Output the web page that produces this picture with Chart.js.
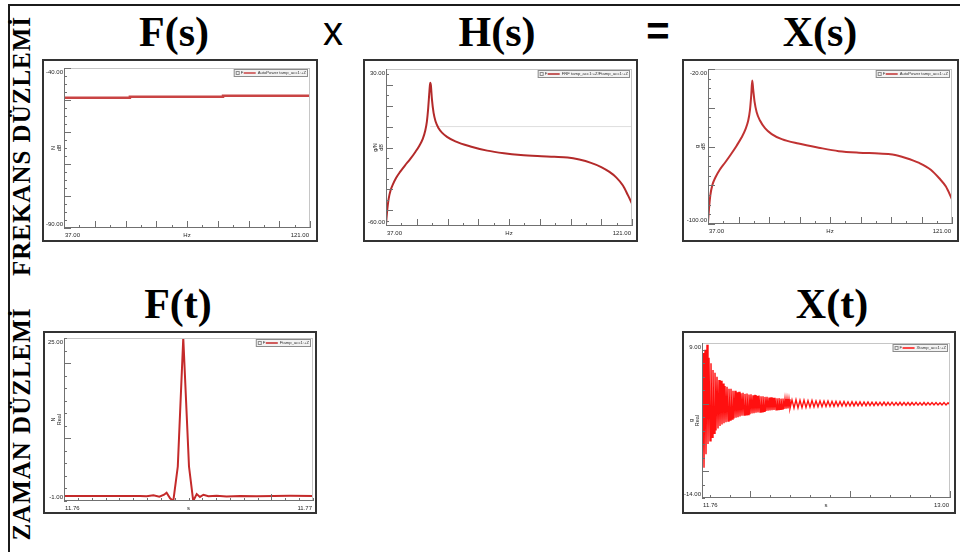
<!DOCTYPE html>
<html lang="tr">
<head>
<meta charset="UTF-8">
<title>Frekans ve Zaman Düzlemi</title>
<style>
  body {
    margin: 0;
    width: 960px;
    height: 552px;
    position: relative;
    overflow: hidden;
    background: #fff;
    font-family: 'Liberation Sans', Arial, sans-serif;
  }
  .frame {
    position: absolute;
    left: 8px;
    top: 4px;
    width: 980px;
    height: 580px;
    border-top: 2px solid #1b1b1b;
    border-left: 2px solid #1b1b1b;
  }
  .title {
    position: absolute;
    width: 140px;
    text-align: center;
    font-family: 'Liberation Serif', 'Times New Roman', serif;
    font-weight: bold;
    font-size: 42px;
    line-height: 42px;
    color: #000;
  }
  .op {
    position: absolute;
    width: 40px;
    text-align: center;
    font-size: 40px;
    line-height: 40px;
    color: #000;
  }
  .side {
    position: absolute;
    width: 300px;
    height: 30px;
    line-height: 30px;
    text-align: center;
    font-family: 'Liberation Serif', 'Times New Roman', serif;
    font-weight: bold;
    font-size: 25px;
    letter-spacing: 1px;
    transform: rotate(-90deg);
    white-space: nowrap;
  }
  .panel {
    position: absolute;
    border: 2px solid #333;
    background: #fff;
  }
  .panel canvas { display: block; }
</style>
</head>
<body>
  <div class="frame"></div>

  <div class="side" style="left:-128px; top:131px;">FREKANS DÜZLEMİ</div>
  <div class="side" style="left:-128px; top:409px;">ZAMAN DÜZLEMİ</div>

  <div class="title" style="left:104px; top:11px;">F(s)</div>
  <div class="op" style="left:313px; top:11px;">x</div>
  <div class="title" style="left:427px; top:11px;">H(s)</div>
  <div class="op" style="left:638px; top:11px; font-weight:bold;">=</div>
  <div class="title" style="left:750px; top:11px;">X(s)</div>
  <div class="title" style="left:108px; top:283px;">F(t)</div>
  <div class="title" style="left:762px; top:283px;">X(t)</div>

  <div class="panel" style="left:42px; top:59px;"><canvas id="fsChart" width="272" height="179"></canvas></div>
  <div class="panel" style="left:363px; top:59px;"><canvas id="hsChart" width="271" height="179"></canvas></div>
  <div class="panel" style="left:682px; top:59px;"><canvas id="xsChart" width="273" height="179"></canvas></div>
  <div class="panel" style="left:43px; top:331px;"><canvas id="ftChart" width="270" height="179"></canvas></div>
  <div class="panel" style="left:682px; top:331px;"><canvas id="xtChart" width="270" height="179"></canvas></div>

  <script src="https://cdn.jsdelivr.net/npm/chart.js"></script>
  <script>
    // F(s): force auto power, dB
    const fsFreq  = [37, 59.5, 59.5, 91.3, 91.3, 121];
    const fsLevel = [-49.3, -49.3, -49.0, -49.0, -48.7, -48.7];

    // H(s): FRF magnitude, dB
    const hsFreq = [37.0, 37.46, 37.92, 38.6, 39.29, 40.43, 41.81, 43.52, 45.24, 46.96,
                    48.44, 49.59, 50.39, 50.96, 51.42, 51.76, 51.99, 52.11, 52.33, 52.68,
                    53.25, 53.94, 54.97, 56.11, 57.83, 60.69, 65.84, 71.56, 77.28, 83.0,
                    88.73, 94.45, 99.03, 103.0, 107.0, 110.5, 113.3, 115.6, 117.9, 119.6, 121.0];
    const hsLevel = [-59, -50.2, -44.3, -39.4, -36.4, -32.5, -29, -25.2, -21.7, -17.7,
                     -13.8, -9.9, -5.4, -0.1, 7.8, 15.7, 20.6, 22.1, 20.6, 12.7,
                     4.8, -0.1, -4, -6.5, -8.9, -11.5, -14.4, -16.8, -18.3, -19.3,
                     -19.9, -20.3, -20.7, -21.9, -23.8, -26.2, -29, -32.1, -36.8, -42.3, -47.2];
    // horizontal cursor, from the resonance to the end of the band
    const hsCursorFreq = [52.1, 121];
    const hsCursorLevel = [-3, -3];

    // X(s): response auto power, dB
    const xsFreq = [37.0, 37.35, 37.81, 38.5, 39.54, 41.04, 42.77, 44.85, 46.81, 48.54,
                    49.92, 50.85, 51.43, 51.89, 52.23, 52.58, 53.04, 53.73, 54.89, 56.62,
                    58.93, 62.39, 68.16, 75.08, 82.01, 88.93, 95.85, 100.5, 105.1, 109.7,
                    113.7, 116.6, 118.9, 121.0];
    const xsLevel = [-99.1, -92.1, -85.1, -79.9, -76, -72, -68.5, -64.1, -59.7, -55.4,
                     -51, -46.6, -41.4, -33.5, -26, -30.9, -37, -42.2, -46.6, -50.5,
                     -53.6, -56.2, -58.5, -60.6, -62.4, -63.2, -63.6, -64.1, -65.9, -68.5,
                     -72, -76.4, -80.7, -87.2];

    // F(t): hammer impulse, N
    const ftTime = [11.76000, 11.76171, 11.76305, 11.76332, 11.76359, 11.76383, 11.76402, 11.76412,
                    11.76426, 11.76439, 11.76457, 11.76479, 11.76502, 11.76519, 11.76533, 11.76546,
                    11.76560, 11.76580, 11.76613, 11.76653, 11.76707, 11.76774, 11.76841, 11.76908, 11.77000];
    const ftForce = [-0.2, -0.2, -0.2, -0.26, -0.1, -0.32, 0.0, 0.32,
                     -0.58, -1.0, 4.5, 25.0, 4.5, -1.0, 0.1, -0.35,
                     0.0, -0.25, -0.15, -0.28, -0.2, -0.25, -0.22, -0.18, -0.2];

    // X(t): acceleration response, g (peak / trough per half cycle)
    const xtTime = [
      11.760, 11.765, 11.770, 11.775, 11.780, 11.785, 11.790, 11.795, 11.800, 11.805,
      11.810, 11.815, 11.820, 11.825, 11.830, 11.835, 11.840, 11.845, 11.850, 11.855,
      11.860, 11.865, 11.870, 11.875, 11.880, 11.885, 11.890, 11.895, 11.900, 11.905,
      11.910, 11.915, 11.920, 11.925, 11.930, 11.935, 11.940, 11.945, 11.950, 11.955,
      11.960, 11.965, 11.970, 11.975, 11.980, 11.985, 11.990, 11.995, 12.000, 12.005,
      12.010, 12.015, 12.020, 12.025, 12.030, 12.035, 12.040, 12.045, 12.050, 12.055,
      12.060, 12.065, 12.070, 12.075, 12.080, 12.085, 12.090, 12.095, 12.100, 12.105,
      12.110, 12.115, 12.120, 12.125, 12.130, 12.135, 12.140, 12.145, 12.150, 12.155,
      12.160, 12.165, 12.170, 12.175, 12.180, 12.185, 12.190, 12.195, 12.200,
      12.21, 12.22, 12.23, 12.24, 12.25, 12.26, 12.27, 12.28, 12.29, 12.30,
      12.31, 12.32, 12.33, 12.34, 12.35, 12.36, 12.37, 12.38, 12.39, 12.40,
      12.41, 12.42, 12.43, 12.44, 12.45, 12.46, 12.47, 12.48, 12.49, 12.50,
      12.51, 12.52, 12.53, 12.54, 12.55, 12.56, 12.57, 12.58, 12.59, 12.60,
      12.61, 12.62, 12.63, 12.64, 12.65, 12.66, 12.67, 12.68, 12.69, 12.70,
      12.71, 12.72, 12.73, 12.74, 12.75, 12.76, 12.77, 12.78, 12.79, 12.80,
      12.81, 12.82, 12.83, 12.84, 12.85, 12.86, 12.87, 12.88, 12.89, 12.90,
      12.91, 12.92, 12.93, 12.94, 12.95, 12.96, 12.97, 12.98, 12.99, 13.00];
    const xtAccel = [
      -13.8, 7.5, -9.5, 8.0, -7.5, 8.75, -6.0, 6.8, -5.5, 6.0,
      -5.0, 5.0, -4.4, 4.6, -4.0, 4.0, -3.7, 3.5, -3.3, 3.4,
      -3.1, 3.0, -2.9, 2.6, -2.75, 2.5, -2.6, 2.2, -2.45, 2.2,
      -2.3, 1.9, -2.2, 1.9, -2.1, 1.7, -2.0, 1.75, -1.9, 1.55,
      -1.8, 1.6, -1.7, 1.45, -1.65, 1.5, -1.6, 1.35, -1.55, 1.4,
      -1.45, 1.25, -1.4, 1.3, -1.35, 1.15, -1.3, 1.2, -1.25, 1.08,
      -1.2, 1.1, -1.15, 1.0, -1.1, 1.02, -1.05, 0.92, -1.0, 0.95,
      -0.96, 0.86, -0.93, 0.88, -0.9, 0.8, -0.87, 0.82, -0.84, 0.74,
      -0.81, 0.76, -0.78, 0.69, -0.75, 0.7, -0.72, 0.64, -0.7,
      0.56, -0.65, 0.58, -0.62, 0.5,
      -0.58, 0.52, -0.55, 0.45, -0.52, 0.47, -0.5, 0.41, -0.47, 0.42,
      -0.45, 0.38, -0.43, 0.38, -0.41, 0.34, -0.4, 0.35, -0.38, 0.31,
      -0.36, 0.32, -0.35, 0.28, -0.34, 0.29, -0.33, 0.26, -0.32, 0.27,
      -0.31, 0.24, -0.3, 0.25, -0.29, 0.22, -0.28, 0.23, -0.27, 0.21,
      -0.26, 0.22, -0.26, 0.2, -0.25, 0.21, -0.25, 0.19, -0.24, 0.2,
      -0.24, 0.18, -0.23, 0.19, -0.23, 0.17, -0.22, 0.18, -0.22, 0.16,
      -0.21, 0.17, -0.21, 0.15, -0.2, 0.16, -0.2, 0.15, -0.2, 0.14,
      -0.19, 0.15, -0.19, 0.14, -0.18];

    const FONT = '"Liberation Sans", Arial, sans-serif';

    // Test.Lab style decoration: light frame, inward ticks, end labels, unit, legend box
    function panelDecor(opt) {
      return {
        id: 'panelDecor',
        afterDatasetsDraw(chart) {
          const { ctx, chartArea: a, scales: { x, y } } = chart;
          ctx.save();
          ctx.lineWidth = 1;
          ctx.strokeStyle = '#c6c6c6';
          ctx.strokeRect(a.left + 0.5, a.top + 0.5, a.width - 1, a.height - 1);

          ctx.strokeStyle = '#707070';
          ctx.beginPath();
          ctx.moveTo(a.left + 0.5, a.top);
          ctx.lineTo(a.left + 0.5, a.bottom);
          ctx.moveTo(a.left, a.bottom - 0.5);
          ctx.lineTo(a.right, a.bottom - 0.5);

          const [ys, ystep, yn, yFrom, yEvery] = opt.yTick;
          for (let i = 0; i < yn; i++) {
            const py = Math.round(y.getPixelForValue(ys + i * ystep)) + 0.5;
            const len = (i >= yFrom && (i - yFrom) % yEvery === 0) ? 7 : 3;
            ctx.moveTo(a.left, py);
            ctx.lineTo(a.left + len, py);
          }
          const [xs, xstep, xn, xFrom, xEvery] = opt.xTick;
          for (let i = 0; i < xn; i++) {
            const px = Math.round(x.getPixelForValue(xs + i * xstep)) + 0.5;
            const len = (i >= xFrom && (i - xFrom) % xEvery === 0) ? 7 : 3;
            ctx.moveTo(px, a.bottom);
            ctx.lineTo(px, a.bottom - len);
          }
          ctx.stroke();

          // axis end values and unit
          ctx.fillStyle = '#262626';
          ctx.font = '6px ' + FONT;
          ctx.textAlign = 'right';
          ctx.textBaseline = 'middle';
          ctx.fillText(y.max.toFixed(2), a.left - 1, a.top + 4);
          ctx.fillText(y.min.toFixed(2), a.left - 1, a.bottom - 4);
          ctx.textBaseline = 'top';
          ctx.textAlign = 'left';
          ctx.fillText(x.min.toFixed(2), a.left + 1, a.bottom + 4);
          ctx.textAlign = 'right';
          ctx.fillText(x.max.toFixed(2), a.right - 1, a.bottom + 4);
          ctx.textAlign = 'center';
          ctx.fillText(opt.xUnit, (a.left + a.right) / 2, a.bottom + 4);

          ctx.save();
          ctx.translate(a.left - 11, (a.top + a.bottom) / 2);
          ctx.rotate(-Math.PI / 2);
          ctx.font = '5.5px ' + FONT;
          ctx.textBaseline = 'middle';
          opt.yUnit.forEach((s, i) => ctx.fillText(s, 0, i * 6));
          ctx.restore();

          // legend box, top right of the plot
          const ds = chart.data.datasets[0];
          ctx.font = '4.2px ' + FONT;
          const tw = ctx.measureText(ds.label).width;
          const w = tw + 26, h = 8;
          const lx = a.right - 2 - w, ly = a.top + 1;
          ctx.fillStyle = '#f3f3f3';
          ctx.fillRect(lx, ly, w, h);
          ctx.strokeStyle = '#8c8c8c';
          ctx.strokeRect(lx + 0.5, ly + 0.5, w - 1, h - 1);
          ctx.strokeRect(lx + 2.5, ly + 2.5, 3, 3);
          ctx.fillStyle = '#333';
          ctx.textAlign = 'left';
          ctx.textBaseline = 'middle';
          ctx.fillText('F', lx + 7, ly + h / 2);
          ctx.strokeStyle = ds.borderColor;
          ctx.lineWidth = 1.5;
          ctx.beginPath();
          ctx.moveTo(lx + 10, ly + h / 2);
          ctx.lineTo(lx + 22, ly + h / 2);
          ctx.stroke();
          ctx.fillText(ds.label, lx + 24, ly + h / 2);
          ctx.restore();
        }
      };
    }

    function plotPanel(id, xs, ys, opt) {
      const datasets = [{
        label: opt.legend,
        data: xs.map((v, i) => ({ x: v, y: ys[i] })),
        borderColor: opt.color,
        borderWidth: opt.width,
        pointRadius: 0,
        fill: false,
        cubicInterpolationMode: opt.smooth ? 'monotone' : 'default',
        tension: 0,
        order: 0
      }];
      if (opt.cursor) {
        datasets.push({
          label: 'cursor',
          data: opt.cursor[0].map((v, i) => ({ x: v, y: opt.cursor[1][i] })),
          borderColor: '#dedede',
          borderWidth: 1,
          pointRadius: 0,
          order: 1
        });
      }
      return new Chart(document.getElementById(id), {
        type: 'line',
        data: { datasets },
        options: {
          responsive: false,
          animation: false,
          events: [],
          layout: { padding: opt.pad },
          plugins: { legend: { display: false }, tooltip: { enabled: false } },
          scales: {
            x: { type: 'linear', display: false, min: opt.xMin, max: opt.xMax },
            y: { type: 'linear', display: false, min: opt.yMin, max: opt.yMax }
          }
        },
        plugins: [panelDecor(opt)]
      });
    }

    const freqTick = [37, 5.25, 17, 0, 2];

    plotPanel('fsChart', fsFreq, fsLevel, {
      legend: 'AutoPower tamp_acc1:+Z', color: '#c94444', width: 2.5,
      xMin: 37, xMax: 121, yMin: -90, yMax: -40,
      pad: { left: 20, right: 6, top: 7, bottom: 12 },
      xTick: freqTick, yTick: [-90, 2.5, 21, 0, 4],
      xUnit: 'Hz', yUnit: ['N', 'dB']
    });

    plotPanel('hsChart', hsFreq, hsLevel, {
      legend: 'FRF tamp_acc1:+Z/Ftamp_acc1:+Z', color: '#b32a2a', width: 2, smooth: true,
      cursor: [hsCursorFreq, hsCursorLevel],
      xMin: 37, xMax: 121, yMin: -60, yMax: 30,
      pad: { left: 21, right: 4, top: 8, bottom: 14 },
      xTick: freqTick, yTick: [-57, 6, 15, 1, 2],
      xUnit: 'Hz', yUnit: ['g/N', 'dB']
    });

    plotPanel('xsChart', xsFreq, xsLevel, {
      legend: 'AutoPower tamp_acc1:+Z', color: '#c03232', width: 2, smooth: true,
      xMin: 37, xMax: 121, yMin: -100, yMax: -20,
      pad: { left: 24, right: 5, top: 8, bottom: 16 },
      xTick: freqTick, yTick: [-100, 5, 17, 0, 4],
      xUnit: 'Hz', yUnit: ['g', 'dB']
    });

    plotPanel('ftChart', ftTime, ftForce, {
      legend: 'Ftamp_acc1:+Z', color: '#c42a2a', width: 2,
      xMin: 11.76, xMax: 11.77, yMin: -1, yMax: 25,
      pad: { left: 19, right: 2, top: 5, bottom: 11 },
      xTick: [11.76, 0.01 / 18, 19, 15, 100], yTick: [-1, 2, 14, 5, 6],
      xUnit: 's', yUnit: ['N', 'Real']
    });

    plotPanel('xtChart', xtTime, xtAccel, {
      legend: 'Xtamp_acc1:+Z', color: '#ff1010', width: 1.4,
      xMin: 11.76, xMax: 13.0, yMin: -14, yMax: 9,
      pad: { left: 18, right: 4, top: 10, bottom: 14 },
      xTick: [11.8, 0.1, 13, 2, 5], yTick: [-14, 2, 12, 2, 5],
      xUnit: 's', yUnit: ['g', 'Real']
    });
  </script>
</body>
</html>
